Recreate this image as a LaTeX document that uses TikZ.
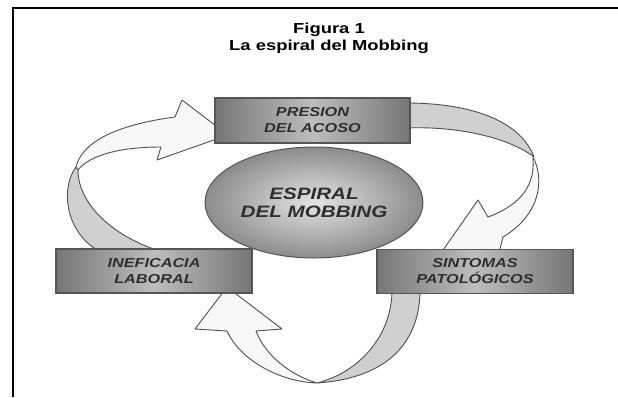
\documentclass[tikz,border=0pt]{standalone}
\usepackage{fontspec}
\usetikzlibrary{shapes.geometric}
\newfontfamily\titlefont[FakeStretch=1.27]{Liberation Sans}
\newfontfamily\labfont[FakeStretch=1.25]{Liberation Sans}
\definecolor{boxdark}{HTML}{767676}
\definecolor{boxlight}{HTML}{BDBDBD}
\definecolor{boxedge}{HTML}{555555}
\definecolor{labtext}{HTML}{2E2E2E}
\definecolor{elldark}{HTML}{8C8C8C}
\definecolor{elllight}{HTML}{E4E4E4}
\definecolor{arrowedge}{HTML}{505050}
\definecolor{arrowwhite}{HTML}{F8F8F8}
\definecolor{arrowgray}{HTML}{D0D0D0}
\begin{document}
\begin{tikzpicture}[x=1pt,y=-1pt,
  boxnode/.style={draw=boxedge, line width=1.2pt, left color=boxdark, right color=boxdark,
    middle color=boxlight, minimum width=196pt, minimum height=44pt, inner sep=0pt,
    align=center, text=labtext, font=\labfont\bfseries\itshape\fontsize{13}{16}\selectfont},
  ellnode/.style={ellipse, draw=boxedge, line width=1pt, inner color=elllight, outer color=elldark,
    minimum width=218pt, minimum height=111pt, inner sep=0pt, align=center, text=labtext,
    font=\labfont\bfseries\itshape\fontsize{16.5}{18}\selectfont},
  titlenode/.style={font=\titlefont\bfseries\fontsize{14.5}{16}\selectfont, text=black, inner sep=0pt},
  arrowfront/.style={fill=arrowwhite, draw=arrowedge, line width=0.9pt, line join=round},
  arrowback/.style={fill=arrowgray, draw=arrowedge, line width=0.9pt, line join=round}]
\useasboundingbox (0,0) rectangle (618,397);
\fill[white] (0,0) rectangle (618,397);
% frame
\draw[line width=2pt] (13,397) -- (13,8) -- (618,8);
% titles
\node[titlenode, anchor=base] (fig) at (329,33) {Figura 1};
\node[titlenode, anchor=base] (sub) at (329,50) {La espiral del Mobbing};
% arrow C : inefficacy -> pressure
\path[arrowback] (76,167) .. controls (62,185) and (62,230) .. (100,252) -- (163,252)
  .. controls (115,238) and (78,205) .. (78,170) -- cycle;
\path[arrowfront] (76,167) .. controls (80,150) and (100,127) .. (175,117) -- (182,100)
  -- (228,135) -- (157,160) -- (161,147) .. controls (120,147) and (90,155) .. (78,170) -- cycle;
% arrow A : pressure -> symptoms
\path[arrowback] (406,103) .. controls (470,103) and (520,120) .. (534,157)
  .. controls (505,135) and (450,126) .. (406,128) -- cycle;
\path[arrowfront] (533,157) .. controls (545,180) and (540,215) .. (503,237) -- (499,253)
  -- (441,253) -- (478,200) -- (488,217) .. controls (515,207) and (535,190) .. (533,160) -- cycle;
% arrow B : symptoms -> inefficacy
\path[arrowback] (420,290) .. controls (420,340) and (390,378) .. (317,383)
  .. controls (360,372) and (392,335) .. (392,290) -- cycle;
\path[arrowfront] (317,383) .. controls (280,382) and (240,360) .. (227,331) -- (195,329)
  -- (227,287) -- (282,329) -- (256,331) .. controls (265,355) and (290,375) .. (317,383) -- cycle;
% centre
\node[ellnode] (esp) at (314,202.5) {ESPIRAL\\DEL MOBBING};
% boxes
\node[boxnode, minimum width=195pt, minimum height=45pt] (pres) at (312.5,120.5) {PRESION\\DEL ACOSO};
\node[boxnode] (inef) at (154,271) {INEFICACIA\\LABORAL};
\node[boxnode] (sint) at (475,271.5) {SINTOMAS\\PATOLÓGICOS};
\end{tikzpicture}
\end{document}
